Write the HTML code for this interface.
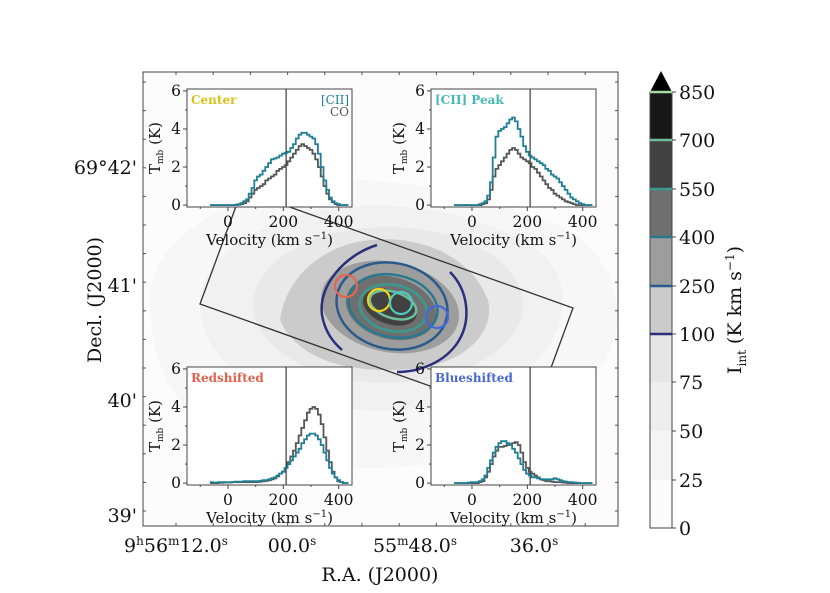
<!DOCTYPE html>
<html><head><meta charset="utf-8"><style>
html,body{margin:0;padding:0;background:#fff;}
svg{display:block;font-family:"DejaVu Serif","Liberation Serif",serif;}
</style></head><body>
<svg id="fig" width="830" height="593" viewBox="0 0 830 593" xmlns="http://www.w3.org/2000/svg"></svg>
<script>
const velocities = [-60,-50,-40,-30,-20,-10,0,10,20,30,40,50,60,70,80,90,100,110,120,130,140,150,160,170,180,190,200,210,220,230,240,250,260,270,280,290,300,310,320,330,340,350,360,370,380,390,400,410,420,430];
const centerCII = [0,0,0,0,0,0,0,0,0,0.02,0.05,0.1,0.2,0.3,0.6,0.9,1.3,1.5,1.6,1.8,2.0,2.2,2.4,2.45,2.5,2.6,2.7,2.75,2.8,3.0,3.2,3.5,3.7,3.8,3.8,3.7,3.6,3.5,3.2,2.7,2.0,1.3,0.8,0.4,0.2,0.1,0.05,0,0,0];
const centerCO = [0,0,0,0,0,0,0,0,0,0,0.02,0.05,0.1,0.2,0.4,0.6,0.8,0.9,1.0,1.1,1.3,1.4,1.5,1.6,1.8,1.9,2.0,2.1,2.3,2.5,2.7,2.9,3.1,3.2,3.1,3.0,2.9,2.7,2.4,2.0,1.5,1.0,0.6,0.3,0.15,0.05,0,0,0,0];
const peakCII = [0,0,0,0,0,0,0,0,0,0.05,0.1,0.2,0.5,1.2,2.5,3.6,3.9,4.0,4.1,4.3,4.5,4.6,4.4,4.0,3.6,3.1,2.8,2.6,2.5,2.4,2.3,2.2,2.1,1.9,1.8,1.6,1.5,1.4,1.2,1.0,0.8,0.6,0.4,0.3,0.2,0.1,0.05,0,0,0];
const peakCO = [0,0,0,0,0,0,0,0,0,0,0.05,0.1,0.3,0.8,1.5,1.9,2.1,2.3,2.5,2.7,2.9,3.0,2.9,2.7,2.5,2.4,2.3,2.2,2.0,1.9,1.7,1.5,1.3,1.1,0.9,0.8,0.6,0.5,0.4,0.3,0.2,0.15,0.1,0.05,0,0,0,0,0,0];
const redCII = [0.05,0.03,0.03,0.05,0.05,0.05,0.05,0.05,0.05,0.08,0.08,0.08,0.1,0.1,0.1,0.1,0.1,0.1,0.12,0.15,0.15,0.2,0.25,0.3,0.4,0.5,0.6,0.8,1.0,1.2,1.4,1.6,1.8,2.1,2.3,2.5,2.6,2.6,2.5,2.3,2.0,1.6,1.2,0.8,0.5,0.3,0.15,0.05,0,0];
const redCO = [0,0,0,0.02,0.02,0.03,0.03,0.03,0.05,0.05,0.05,0.05,0.05,0.05,0.05,0.05,0.05,0.06,0.08,0.1,0.12,0.15,0.2,0.25,0.35,0.5,0.6,0.8,1.1,1.4,1.7,2.1,2.5,2.9,3.3,3.7,3.9,4.0,3.9,3.6,3.1,2.4,1.7,1.1,0.6,0.3,0.1,0.05,0,0];
const blueCII = [0,0,0,0,0,0.02,0.05,0.05,0.05,0.1,0.2,0.4,0.8,1.2,1.6,1.9,2.1,2.2,2.2,2.1,2.0,1.8,1.6,1.3,1.0,0.7,0.5,0.4,0.3,0.3,0.25,0.2,0.2,0.2,0.2,0.2,0.25,0.2,0.15,0.1,0.08,0.05,0.05,0.03,0.02,0,0,0,0,0];
const blueCO = [0,0,0,0,0,0,0,0,0,0.05,0.1,0.3,0.6,1.0,1.4,1.7,1.9,1.9,1.95,2.0,2.05,2.1,2.15,2.0,1.6,1.1,0.8,0.6,0.5,0.4,0.3,0.2,0.15,0.1,0.1,0.08,0.05,0.05,0.05,0.03,0.02,0,0,0,0,0,0,0,0,0];
const insetXTicks = [0,200,400];
const insetYTicks = [0,2,4,6];
const cbarLevels = [0,25,50,75,100,250,400,550,700,850];
const decLabels = ["69°42'","41'","40'","39'"];

const NS="http://www.w3.org/2000/svg";
const svg=document.getElementById('fig');
function el(tag,attrs,parent){const e=document.createElementNS(NS,tag);for(const k in attrs)e.setAttribute(k,attrs[k]);(parent||svg).appendChild(e);return e;}

const AX={l:143,t:72,r:618,b:526};
const main=el('g',{});


el('rect',{x:AX.l,y:AX.t,width:AX.r-AX.l,height:AX.b-AX.t,fill:'#fcfcfc'},main);
el('clipPath',{id:'axclip'},main).appendChild((()=>{const r=document.createElementNS(NS,'rect');r.setAttribute('x',AX.l);r.setAttribute('y',AX.t);r.setAttribute('width',AX.r-AX.l);r.setAttribute('height',AX.b-AX.t);return r;})());
const mapG=el('g',{'clip-path':'url(#axclip)'},main);


el('path',{d:'M150,300 C150,240 220,200 300,185 C370,170 460,190 530,215 C600,235 618,280 618,320 C610,380 560,420 480,450 C400,480 300,470 230,440 C170,410 150,360 150,300Z',fill:'#f7f7f7'},mapG);
el('path',{d:'M200,300 C205,250 270,215 340,208 C410,200 480,215 530,245 C580,275 570,340 520,375 C460,410 380,420 300,400 C230,380 198,345 200,300Z',fill:'#f1f1f1'},mapG);
el('ellipse',{cx:388,cy:305,rx:135,ry:78,fill:'#e9e9e9'},mapG);
el('path',{d:'M280,320 C285,280 320,245 370,240 C420,235 470,255 488,300 C495,330 470,360 420,368 C360,375 300,365 280,320Z',fill:'#cbcbcb'},mapG);
el('ellipse',{cx:390,cy:307,rx:70,ry:45,fill:'#9d9d9d',transform:'rotate(12 390 307)'},mapG);
el('ellipse',{cx:391,cy:308,rx:46,ry:31,fill:'#6f6f6f',transform:'rotate(15 391 308)'},mapG);
el('ellipse',{cx:390,cy:307,rx:28,ry:17,fill:'#414141',transform:'rotate(20 390 307)'},mapG);
const cc=['#2b2f7b','#2a5a8c','#28798f','#3a9a8f','#6dbf9b','#a6dba0'];
el('path',{d:'M377,245 C345,255 318,285 322,315 C325,332 333,342 342,350',fill:'none',stroke:cc[0],'stroke-width':2.5},mapG);
el('path',{d:'M450,272 C468,290 472,320 458,342 C445,362 420,372 397,372',fill:'none',stroke:cc[0],'stroke-width':2.5},mapG);
el('ellipse',{cx:392,cy:306,rx:56,ry:43,fill:'none',stroke:cc[1],'stroke-width':2.5,transform:'rotate(12 392 306)'},mapG);
el('ellipse',{cx:393,cy:306,rx:45,ry:31,fill:'none',stroke:cc[2],'stroke-width':2.5,transform:'rotate(12 393 306)'},mapG);
el('ellipse',{cx:393,cy:308,rx:34,ry:23,fill:'none',stroke:cc[3],'stroke-width':2.5,transform:'rotate(12 393 308)'},mapG);
el('ellipse',{cx:393,cy:305,rx:24,ry:13,fill:'none',stroke:cc[4],'stroke-width':2.5,transform:'rotate(18 393 305)'},mapG);
const fp=el('polygon',{points:'200,304 242,190 573,308 531,422',fill:'none',stroke:'#333','stroke-width':1.3},mapG);


[['red-region',346,286,'#e8664f'],['center-region',379,300,'#f2d21d'],['peak-region',401,303,'#4fc9c3'],['blue-region',437,317,'#4668d8']].forEach(c=>{
 const e=el('circle',{cx:c[1],cy:c[2],r:11,fill:'none',stroke:c[3],'stroke-width':2.2},mapG);
 
 
});
for(let y=82;y<AX.b;y+=28.6){el('line',{x1:AX.l,y1:y,x2:AX.l+3,y2:y,stroke:'#555'},main);el('line',{x1:AX.r,y1:y,x2:AX.r-3,y2:y,stroke:'#555'},main);}
for(let x=176;x<AX.r;x+=37.2){el('line',{x1:x,y1:AX.b,x2:x,y2:AX.b-3,stroke:'#555'},main);el('line',{x1:x,y1:AX.t,x2:x,y2:AX.t+3,stroke:'#555'},main);}
el('rect',{x:AX.l,y:AX.t,width:AX.r-AX.l,height:AX.b-AX.t,fill:'none',stroke:'#444','stroke-width':1},main);
const decY=[167,285,400,515];
decLabels.forEach((s,i)=>{const t=el('text',{x:137,y:decY[i]+7,'text-anchor':'end','font-size':19,fill:'#111'},main);t.textContent=s;
 });
const yl=el('text',{x:0,y:0,transform:'translate(101 300) rotate(-90)','text-anchor':'middle','font-size':19,fill:'#111'},main);yl.textContent='Decl. (J2000)';

const raT=[[176,'9','h','56','m','12.0','s'],[292,'','','','','00.0','s'],[415,'','','55','m','48.0','s'],[534,'','','','','36.0','s']];
raT.forEach(r=>{const t=el('text',{x:r[0],y:552,'text-anchor':'middle','font-size':19,fill:'#111'},main);
 
 let h='';if(r[1])h+=r[1]+'<tspan font-size="12" dy="-7">'+r[2]+'</tspan><tspan dy="7">'+r[3]+'</tspan><tspan font-size="12" dy="-7">'+r[4]+'</tspan><tspan dy="7">'+r[5]+'</tspan>';
 else if(r[3])h+=r[3]+'<tspan font-size="12" dy="-7">'+r[4]+'</tspan><tspan dy="7">'+r[5]+'</tspan>';
 else h+=r[5];
 h+='<tspan font-size="12" dy="-7">'+r[6]+'</tspan>';t.innerHTML=h;});
const xl=el('text',{x:380,y:581,'text-anchor':'middle','font-size':19,fill:'#111'},main);xl.textContent='R.A. (J2000)';


function inset(name,L,T,title,tcol,cii,co,legend){
 const W=165,H=118;const g=el('g',{});
 
 
 const xs=v=>L+(v+148)/(448+148)*W;
 const ys=v=>T+H-(v+0.1)/6.2*H;
 el('rect',{x:L,y:T,width:W,height:H,fill:'#fff'},g);
 el('line',{x1:xs(210),y1:T,x2:xs(210),y2:T+H,stroke:'#111','stroke-width':1},g);
 function step(arr,col,nm){let d='';velocities.forEach((v,i)=>{const x0=xs(v-5),x1=xs(v+5),y=ys(arr[i]);d+=(i?'L':'M')+x0.toFixed(1)+','+y.toFixed(1)+'L'+x1.toFixed(1)+','+y.toFixed(1);});
  const p=el('path',{d:d,fill:'none',stroke:col,'stroke-width':1.8},g);}
 step(co,'#555555','co-spectrum');step(cii,'#1f7f95','cii-spectrum');
 el('rect',{x:L,y:T,width:W,height:H,fill:'none',stroke:'#444'},g);
 for(let v=-100;v<=400;v+=100){el('line',{x1:xs(v),y1:T+H,x2:xs(v),y2:T+H+(v%200===0?4:2),stroke:'#444'},g);}
 insetXTicks.forEach(v=>{const t=el('text',{x:xs(v),y:T+H+20,'text-anchor':'middle','font-size':15.5,fill:'#111'},g);t.textContent=v;});
 insetYTicks.forEach(v=>{el('line',{x1:L-4,y1:ys(v),x2:L,y2:ys(v),stroke:'#444'},g);const t=el('text',{x:L-6,y:ys(v)+5,'text-anchor':'end','font-size':15.5,fill:'#111'},g);t.textContent=v;});
 for(let v=1;v<6;v+=2)el('line',{x1:L-2,y1:ys(v),x2:L,y2:ys(v),stroke:'#444'},g);
 const xt=el('text',{x:L+W/2,y:T+H+38,'text-anchor':'middle','font-size':15,fill:'#111'},g);xt.innerHTML='Velocity (km s<tspan font-size="10" dy="-6">−1</tspan><tspan dy="6">)</tspan>';
 const yt=el('text',{x:0,y:0,transform:`translate(${L-27} ${T+H/2}) rotate(-90)`,'text-anchor':'middle','font-size':15,fill:'#111'},g);yt.innerHTML='T<tspan font-size="9" dy="3">mb</tspan><tspan dy="-3"> (K)</tspan>';
 const tt=el('text',{x:L+4,y:T+15,'font-size':12,'font-weight':'bold',fill:tcol},g);tt.textContent=title;
 if(legend){const a=el('text',{x:L+W-3,y:T+15,'text-anchor':'end','font-size':12,fill:'#1f7f95'},g);a.textContent='[CII]';
  const b=el('text',{x:L+W-3,y:T+27,'text-anchor':'end','font-size':12,fill:'#555'},g);b.textContent='CO';}
}
inset('center-inset',187,89,'Center','#d8c21a',centerCII,centerCO,true);
inset('peak-inset',431,89,'[CII] Peak','#45b8b2',peakCII,peakCO,false);
inset('redshifted-inset',187,367,'Redshifted','#e0604a',redCII,redCO,false);
inset('blueshifted-inset',431,367,'Blueshifted','#4668d0',blueCII,blueCO,false);

const cb=el('g',{});


const cbY=[528,480,431,382,334,286,237,189,140,92];
const cbFill=['#fbfbfb','#f5f5f5','#eeeeee','#e6e6e6','#cbcbcb','#9d9d9d','#6f6f6f','#414141','#181818'];
for(let i=0;i<9;i++)el('rect',{x:650,y:cbY[i+1],width:22,height:cbY[i]-cbY[i+1],fill:cbFill[i]},cb);
el('polygon',{points:'650,92 672,92 661,71',fill:'#000'},cb);
el('rect',{x:650,y:92,width:22,height:436,fill:'none',stroke:'#444'},cb);
for(let i=4;i<10;i++)el('line',{x1:650,y1:cbY[i],x2:672,y2:cbY[i],stroke:cc[i-4],'stroke-width':2.5},cb);
cbarLevels.forEach((v,i)=>{el('line',{x1:672,y1:cbY[i],x2:676,y2:cbY[i],stroke:'#444'},cb);
 const t=el('text',{x:679,y:cbY[i]+7,'font-size':19,fill:'#111'},cb);t.textContent=v;});
const cl=el('text',{x:0,y:0,transform:'translate(741 310) rotate(-90)','text-anchor':'middle','font-size':19,fill:'#111'},cb);
cl.innerHTML='I<tspan font-size="12" dy="5">int</tspan><tspan dy="-5"> (K km s</tspan><tspan font-size="12" dy="-7">−1</tspan><tspan dy="7">)</tspan>';

</script>
</body></html>
